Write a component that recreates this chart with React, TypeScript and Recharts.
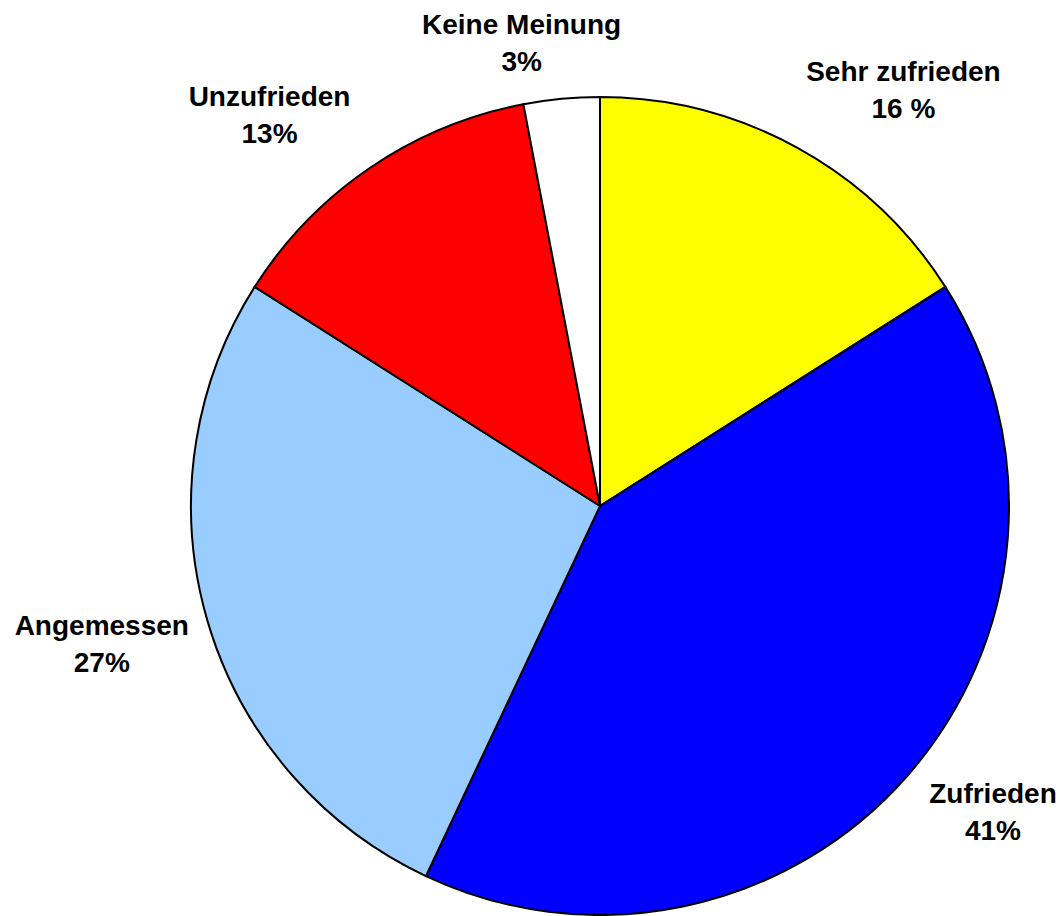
import React from 'react';
import { PieChart, Pie, Cell } from 'recharts';

const categories = ['Sehr zufrieden', 'Zufrieden', 'Angemessen', 'Unzufrieden', 'Keine Meinung'];
const shares = [16, 41, 27, 13, 3];
const shareLabels = ['16 %', '41%', '27%', '13%', '3%'];
const colors = ['#FFFF00', '#0000FF', '#99CCFF', '#FF0000', '#FFFFFF'];

// label placement tweaks: extra radius past the rim, and clockwise angle shift
const labelDist = [106, 89, 108, 103, 61];
const labelShift = [7.3, -3.5, 0.7, -6, -4.2];

const RAD = Math.PI / 180;

const renderLabel = (props: any) => {
  const { cx, cy, midAngle, outerRadius, index } = props;
  const r = outerRadius + labelDist[index];
  const a = midAngle - labelShift[index];
  const x = cx + r * Math.cos(-a * RAD);
  const y = cy + r * Math.sin(-a * RAD);
  return (
    <text
      x={x}
      y={y}
      textAnchor="middle"
      fontFamily="Arial, 'Liberation Sans', sans-serif"
      fontWeight="bold"
      fontSize={28}
      fill="#000"
    >
      <tspan x={x} dy={-9}>{categories[index]}</tspan>
      <tspan x={x} dy={37}>{shareLabels[index]}</tspan>
    </text>
  );
};

export default function App() {
  const data = categories.map((name, i) => ({ name, value: shares[i] }));
  return (
    <div style={{ position: 'absolute', left: 0, top: 0, width: 1064, height: 916, background: '#fff' }}>
      <PieChart width={1064} height={916} margin={{ top: 0, right: 0, bottom: 0, left: 0 }}>
        <Pie
          data={data}
          dataKey="value"
          nameKey="name"
          cx={600}
          cy={506}
          outerRadius={409}
          startAngle={90}
          endAngle={-270}
          stroke="#000"
          strokeWidth={2}
          label={renderLabel}
          labelLine={false}
          isAnimationActive={false}
        >
          {data.map((d, i) => (
            <Cell key={d.name} fill={colors[i]} />
          ))}
        </Pie>
      </PieChart>
    </div>
  );
}
